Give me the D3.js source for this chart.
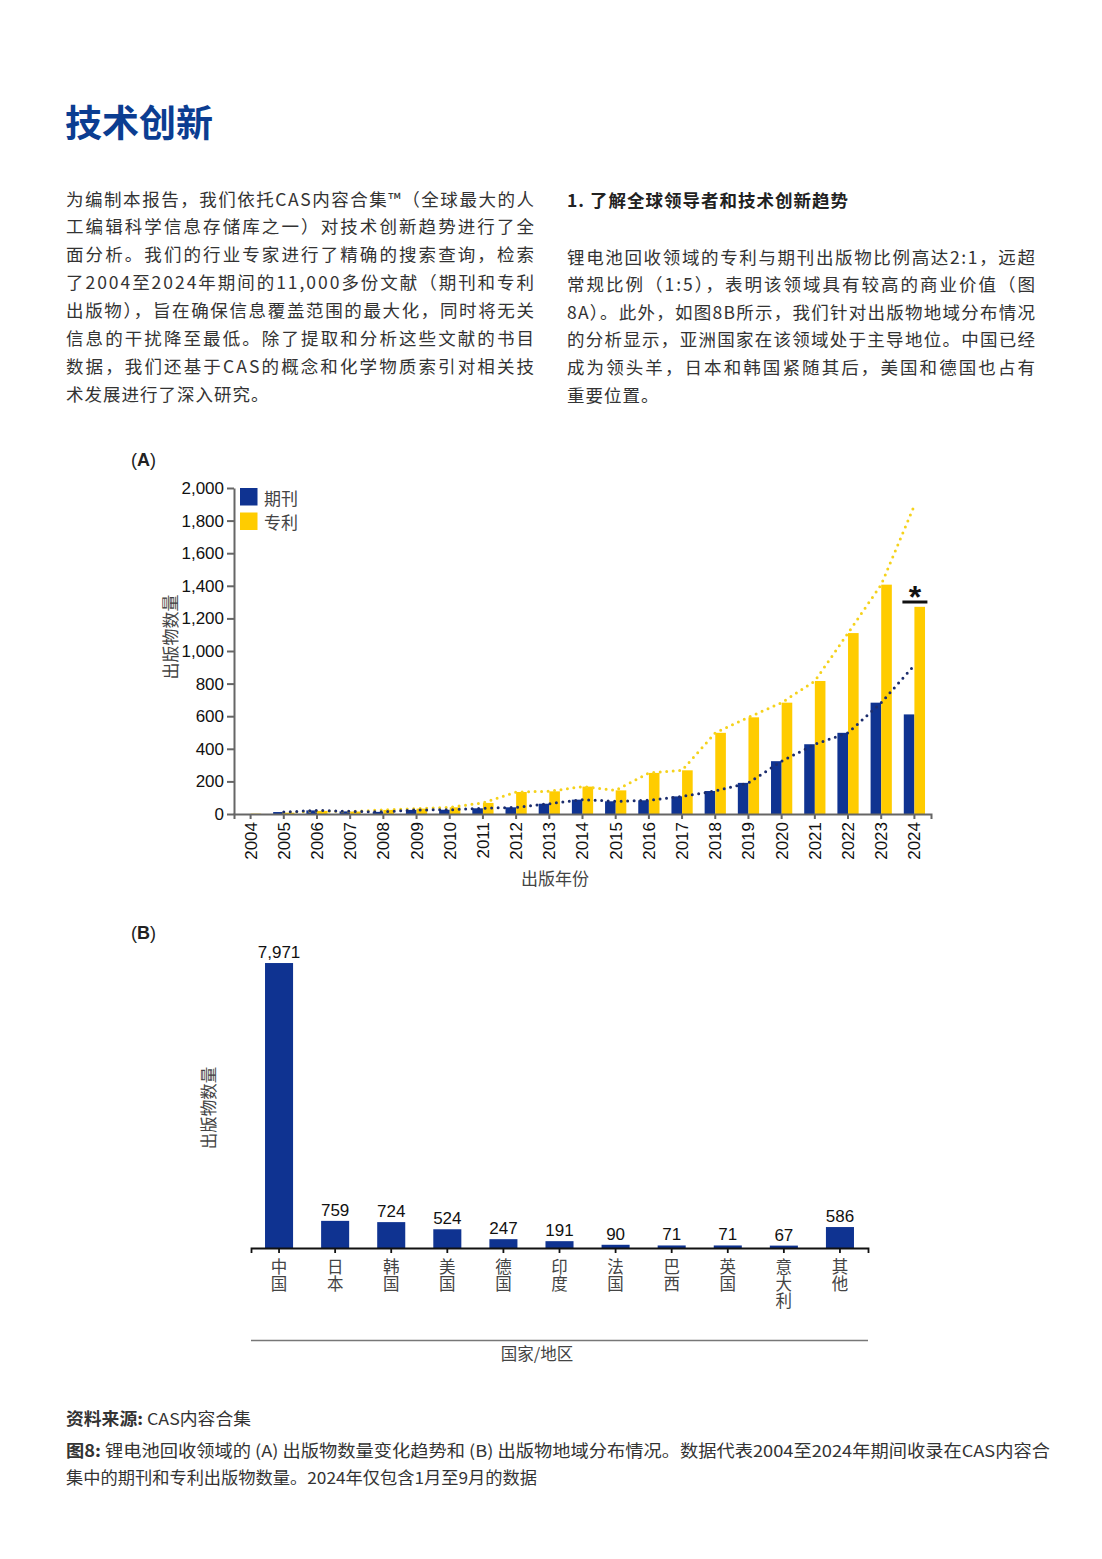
<!DOCTYPE html>
<html>
<head>
<meta charset="utf-8">
<script src="https://cdn.jsdelivr.net/npm/d3@7"></script>
<style>
  html, body { margin: 0; padding: 0; background: #fff; }
  svg { display: block; }
</style>
</head>
<body>
<div id="page"></div>
<script>
// ---------- DATA ----------
const years = ["2004","2005","2006","2007","2008","2009","2010","2011","2012","2013","2014","2015","2016","2017","2018","2019","2020","2021","2022","2023","2024"];
const journals = [0, 12, 22, 16, 13, 25, 26, 35, 41, 63, 88, 78, 84, 108, 141, 191, 324, 428, 498, 683, 611];
const patents  = [2, 8, 19, 15, 25, 33, 41, 68, 135, 139, 168, 145, 252, 268, 498, 593, 683, 816, 1110, 1407, 1271];
const journalTrend = [null, 12, 22, 16, 13, 25, 26, 35, 41, 63, 88, 78, 84, 108, 141, 191, 324, 428, 498, 683, 913];
const patentTrend  = [null, 8, 19, 15, 25, 33, 41, 68, 135, 139, 168, 145, 252, 268, 498, 593, 683, 816, 1110, 1407, 1893];
const yTicksA = [0, 200, 400, 600, 800, 1000, 1200, 1400, 1600, 1800, 2000];
const seriesNames = ["期刊", "专利"];

const countries = ["中国","日本","韩国","美国","德国","印度","法国","巴西","英国","意大利","其他"];
const counts = [7971, 759, 724, 524, 247, 191, 90, 71, 71, 67, 586];

const title = "技术创新";
const leftLines = [
  "为编制本报告，我们依托CAS内容合集™（全球最大的人",
  "工编辑科学信息存储库之一）对技术创新趋势进行了全",
  "面分析。我们的行业专家进行了精确的搜索查询，检索",
  "了2004至2024年期间的11,000多份文献（期刊和专利",
  "出版物），旨在确保信息覆盖范围的最大化，同时将无关",
  "信息的干扰降至最低。除了提取和分析这些文献的书目",
  "数据，我们还基于CAS的概念和化学物质索引对相关技",
  "术发展进行了深入研究。"
];
const rightHeading = "1. 了解全球领导者和技术创新趋势";
const rightLines = [
  "锂电池回收领域的专利与期刊出版物比例高达2:1，远超",
  "常规比例（1:5），表明该领域具有较高的商业价值（图",
  "8A）。此外，如图8B所示，我们针对出版物地域分布情况",
  "的分析显示，亚洲国家在该领域处于主导地位。中国已经",
  "成为领头羊，日本和韩国紧随其后，美国和德国也占有",
  "重要位置。"
];

// ---------- STYLE ----------
const NAVY = "#0f3391", YELLOW = "#ffcc00", NAVY_DOT = "#1c2d6e", YELLOW_DOT = "#f5d21c";
const CJK = "'Noto Sans CJK SC','Noto Sans',sans-serif";
const LAT = "'Liberation Sans',Arial,sans-serif";

const svg = d3.select("#page").append("svg").attr("width", 1102).attr("height", 1559);

// ---------- TEXT BLOCKS ----------
svg.append("text").attr("x", 65).attr("y", 121).attr("dominant-baseline", "central")
  .attr("font-family", CJK).attr("font-weight", 700).attr("font-size", 37).attr("fill", "#0b3d91")
  .text(title);

function bodyLines(lines, x, y0, step, width) {
  lines.forEach((s, i) => {
    const t = svg.append("text").attr("x", x).attr("y", y0 + i * step)
      .attr("dominant-baseline", "central")
      .attr("font-family", CJK).attr("font-size", 17.5).attr("fill", "#333").text(s);
    if (i < lines.length - 1) t.attr("textLength", width).attr("lengthAdjust", "spacing");
    else t.attr("letter-spacing", 1);
  });
}
bodyLines(leftLines, 66, 198, 27.9, 468);
svg.append("text").attr("x", 567).attr("y", 199).attr("dominant-baseline", "central")
  .attr("font-family", CJK).attr("font-weight", 700).attr("font-size", 17.5).attr("letter-spacing", 1)
  .attr("fill", "#222").text(rightHeading);
bodyLines(rightLines, 567, 256, 27.6, 468);

// ---------- CHART A ----------
const xA = d3.scaleBand().domain(years).range([234, 931]);
const yA = d3.scaleLinear().domain([0, 2000]).range([814, 488]);
const bw = xA.bandwidth() * 0.32;
const cx = d => xA(d) + xA.bandwidth() / 2;

const gA = svg.append("g");
gA.append("text").attr("x", 131).attr("y", 460).attr("dominant-baseline", "central")
  .attr("font-family", LAT).attr("font-size", 18).attr("fill", "#222")
  .call(t => { t.append("tspan").text("("); t.append("tspan").attr("font-weight", 700).text("A"); t.append("tspan").text(")"); });

gA.selectAll("rect.j").data(years).join("rect").attr("class", "j")
  .attr("x", d => cx(d) - bw).attr("width", bw)
  .attr("y", (d, i) => yA(journals[i])).attr("height", (d, i) => yA(0) - yA(journals[i]))
  .attr("fill", NAVY);
gA.selectAll("rect.p").data(years).join("rect").attr("class", "p")
  .attr("x", d => cx(d)).attr("width", bw)
  .attr("y", (d, i) => yA(patents[i])).attr("height", (d, i) => yA(0) - yA(patents[i]))
  .attr("fill", YELLOW);

const lineGen = arr => d3.line().defined((d, i) => arr[i] != null).x(d => cx(d)).y((d, i) => yA(arr[i]));
gA.append("path").datum(years).attr("d", lineGen(patentTrend)).attr("fill", "none")
  .attr("stroke", YELLOW_DOT).attr("stroke-width", 3).attr("stroke-linecap", "round").attr("stroke-dasharray", "0,6.5");
gA.append("path").datum(years).attr("d", lineGen(journalTrend)).attr("fill", "none")
  .attr("stroke", NAVY_DOT).attr("stroke-width", 3).attr("stroke-linecap", "round").attr("stroke-dasharray", "0,6.5");

// axes
const yAxis = gA.append("g").attr("transform", "translate(234,0)")
  .call(d3.axisLeft(yA).tickValues(yTicksA).tickFormat(d3.format(",")).tickSize(7).tickSizeOuter(0).tickPadding(3));
yAxis.selectAll("path,line").attr("stroke", "#666").attr("stroke-width", 2);
yAxis.selectAll("text").attr("font-family", LAT).attr("font-size", 17).attr("fill", "#111");

const xAxis = gA.append("g").attr("transform", "translate(0,814)")
  .call(d3.axisBottom(xA).tickSize(5).tickSizeOuter(5));
xAxis.selectAll("path,line").attr("stroke", "#666").attr("stroke-width", 2);
xAxis.selectAll("text").attr("font-family", LAT).attr("font-size", 17).attr("fill", "#111")
  .attr("transform", "rotate(-90)").attr("text-anchor", "end").attr("x", -8).attr("y", 0).attr("dy", "0.35em");

gA.append("text").attr("transform", "translate(169,637) rotate(-90)").attr("text-anchor", "middle")
  .attr("dominant-baseline", "central").attr("font-family", CJK).attr("font-size", 17).attr("fill", "#444").text("出版物数量");
gA.append("text").attr("x", 555).attr("y", 877).attr("text-anchor", "middle")
  .attr("dominant-baseline", "central").attr("font-family", CJK).attr("font-size", 17).attr("fill", "#444").text("出版年份");

// legend
const leg = gA.selectAll("g.leg").data(seriesNames).join("g").attr("class", "leg")
  .attr("transform", (d, i) => `translate(240,${488 + i * 24.5})`);
leg.append("rect").attr("width", 17.5).attr("height", 17.5).attr("fill", (d, i) => i ? YELLOW : NAVY);
leg.append("text").attr("x", 24).attr("y", 9).attr("dominant-baseline", "central")
  .attr("font-family", CJK).attr("font-size", 17).attr("fill", "#444").text(d => d);

// asterisk for 2024 (partial year)
const c24 = cx("2024");
gA.append("line").attr("x1", c24 - 12).attr("x2", c24 + 13).attr("y1", 602).attr("y2", 602)
  .attr("stroke", "#111").attr("stroke-width", 3);
gA.append("text").attr("x", c24 + 0.5).attr("y", 608).attr("text-anchor", "middle")
  .attr("font-family", LAT).attr("font-weight", 700).attr("font-size", 32).attr("fill", "#111").text("*");

// ---------- CHART B ----------
const xB = d3.scaleBand().domain(countries).range([251, 868]).paddingInner(0.5).paddingOuter(0.25);
const yB = d3.scaleLinear().domain([0, 8000]).range([1248, 962]);
const gB = svg.append("g");
gB.append("text").attr("x", 131).attr("y", 933).attr("dominant-baseline", "central")
  .attr("font-family", LAT).attr("font-size", 18).attr("fill", "#222")
  .call(t => { t.append("tspan").text("("); t.append("tspan").attr("font-weight", 700).text("B"); t.append("tspan").text(")"); });

gB.selectAll("rect").data(countries).join("rect")
  .attr("x", d => xB(d)).attr("width", xB.bandwidth())
  .attr("y", (d, i) => yB(counts[i])).attr("height", (d, i) => yB(0) - yB(counts[i]))
  .attr("fill", NAVY);
gB.selectAll("text.val").data(countries).join("text").attr("class", "val")
  .attr("x", d => xB(d) + xB.bandwidth() / 2).attr("y", (d, i) => yB(counts[i]) - 5)
  .attr("text-anchor", "middle").attr("font-family", LAT).attr("font-size", 17).attr("fill", "#111")
  .text((d, i) => d3.format(",")(counts[i]));

const xAxisB = gB.append("g").attr("transform", "translate(0,1248)")
  .call(d3.axisBottom(xB).tickSize(5).tickSizeOuter(5).tickFormat(""));
xAxisB.selectAll("path,line").attr("stroke", "#111").attr("stroke-width", 1.8);

// vertical category labels (vertical writing mode, upright CJK)
gB.selectAll("text.cl").data(countries).join("text").attr("class", "cl")
  .attr("x", d => xB(d) + xB.bandwidth() / 2).attr("y", 1258.5)
  .style("writing-mode", "vertical-rl").style("text-orientation", "upright")
  .attr("letter-spacing", 0.5)
  .attr("font-family", CJK).attr("font-size", 16.5).attr("fill", "#444").attr("text-anchor", "start")
  .text(d => d);

gB.append("line").attr("x1", 251).attr("x2", 868).attr("y1", 1340.5).attr("y2", 1340.5)
  .attr("stroke", "#777").attr("stroke-width", 1.5);
gB.append("text").attr("x", 537).attr("y", 1353).attr("text-anchor", "middle").attr("dominant-baseline", "central")
  .attr("font-family", CJK).attr("font-size", 16.5).attr("fill", "#444").text("国家/地区");
gB.append("text").attr("transform", "translate(208,1108) rotate(-90)").attr("text-anchor", "middle")
  .attr("dominant-baseline", "central").attr("font-family", CJK).attr("font-size", 16.5).attr("fill", "#444").text("出版物数量");

// ---------- FOOTER ----------
function footer(y, boldPart, rest, len) {
  const t = svg.append("text").attr("x", 66).attr("y", y).attr("dominant-baseline", "central")
    .attr("font-family", CJK).attr("font-size", 16.5).attr("fill", "#333");
  if (boldPart) t.append("tspan").attr("font-weight", 700).text(boldPart);
  t.append("tspan").text(rest);
  if (len) t.attr("textLength", len).attr("lengthAdjust", "spacingAndGlyphs");
}
footer(1418, "资料来源: ", "CAS内容合集", 185);
footer(1450, "图8: ", "锂电池回收领域的 (A) 出版物数量变化趋势和 (B) 出版物地域分布情况。数据代表2004至2024年期间收录在CAS内容合", 984);
footer(1477, null, "集中的期刊和专利出版物数量。2024年仅包含1月至9月的数据", 471);
</script>
</body>
</html>
